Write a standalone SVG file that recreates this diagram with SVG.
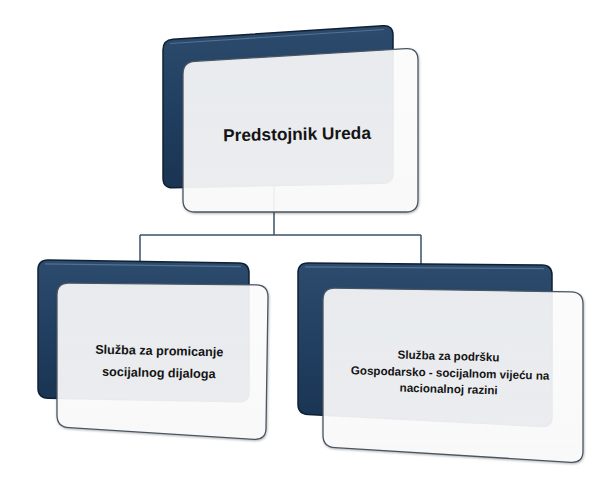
<svg xmlns="http://www.w3.org/2000/svg" width="605" height="481" viewBox="0 0 605 481">
<defs>
<linearGradient id="navy" x1="0" y1="0" x2="0" y2="1">
<stop offset="0" stop-color="#2c4b6d"/>
<stop offset="0.5" stop-color="#213f61"/>
<stop offset="1" stop-color="#1a3452"/>
</linearGradient>
<linearGradient id="glass" x1="0" y1="0" x2="0" y2="1">
<stop offset="0" stop-color="#ffffff" stop-opacity="0.88"/>
<stop offset="1" stop-color="#fbfbfc" stop-opacity="0.92"/>
</linearGradient>
<filter id="sh" x="-5%" y="-5%" width="110%" height="115%">
<feDropShadow dx="0.6" dy="1" stdDeviation="0.8" flood-color="#000" flood-opacity="0.3"/>
</filter>
</defs>
<style>
.back{fill:url(#navy);stroke:#0e2035;stroke-width:1.5}
.hl{fill:none;stroke:#7592b2;stroke-opacity:0.55;stroke-width:1.2}
.front{fill:url(#glass);stroke:#4a5563;stroke-width:1.3}
.conn{fill:none;stroke:#3e5168;stroke-width:1.5}
text{font-family:"Liberation Sans",Arial,sans-serif;font-weight:bold;fill:#141414;text-anchor:middle}
</style>
<rect width="605" height="481" fill="#ffffff"/>
<g id="connectors">
<path class="conn" d="M274,180 V235 M140,235 H421 M140,235 V265 M421,235 V268"/>
</g>
<g id="node-predstojnik">
<path class="back" d="M163,50 Q163,40 173,39.3 L383,25.7 Q393,25 393,35 L393,173 Q393,183 383,183.2 L173,187.8 Q163,188 163,178 Z"/>
<path class="hl" d="M170,43.5 L384,29.5"/>
<path class="front" filter="url(#sh)" d="M183,74 Q183,62 195,61.3 L406,48.7 Q418,48 418,60 L418,200 Q418,212 406,212 L195,212 Q183,212 183,200 Z"/>
<text x="297" y="140" font-size="17.3" transform="rotate(-1 297 135)">Predstojnik Ureda</text>
</g>
<g id="node-promicanje">
<path class="back" d="M38,270 Q38,260 48,260.1 L239,262.9 Q249,263 249,273 L249,392 Q249,402 239,401.8 L48,398.2 Q38,398 38,388 Z"/>
<path class="hl" d="M45,263.8 L241,266.6"/>
<path class="front" filter="url(#sh)" d="M57,295 Q57,283 69,283.1 L256,284.9 Q268,285 268,297 L266,428 Q266,440 254,439.3 L69,427.7 Q57,427 57,415 Z"/>
<g transform="rotate(1.2 159 365)">
<text x="159" y="355" font-size="12.6">Služba za promicanje</text>
<text x="159" y="377" font-size="12.6">socijalnog dijaloga</text>
</g>
</g>
<g id="node-podrska">
<path class="back" d="M298,273 Q298,263 308,263.1 L542,264.9 Q552,265 552,275 L552,417 Q552,427 542,426.5 L308,414.5 Q298,414 298,404 Z"/>
<path class="hl" d="M305,266.8 L544,268.6"/>
<path class="front" filter="url(#sh)" d="M323,300 Q323,288 335,288.2 L571,291.8 Q583,292 583,304 L583,451 Q583,463 571,462.3 L335,447.7 Q323,447 323,435 Z"/>
<g transform="rotate(1.6 450 376)">
<text x="448" y="360" font-size="11.6">Služba za podršku</text>
<text x="450" y="377" font-size="11.6">Gospodarsko - socijalnom vijeću na</text>
<text x="449" y="393" font-size="11.6">nacionalnoj razini</text>
</g>
</g>
</svg>
